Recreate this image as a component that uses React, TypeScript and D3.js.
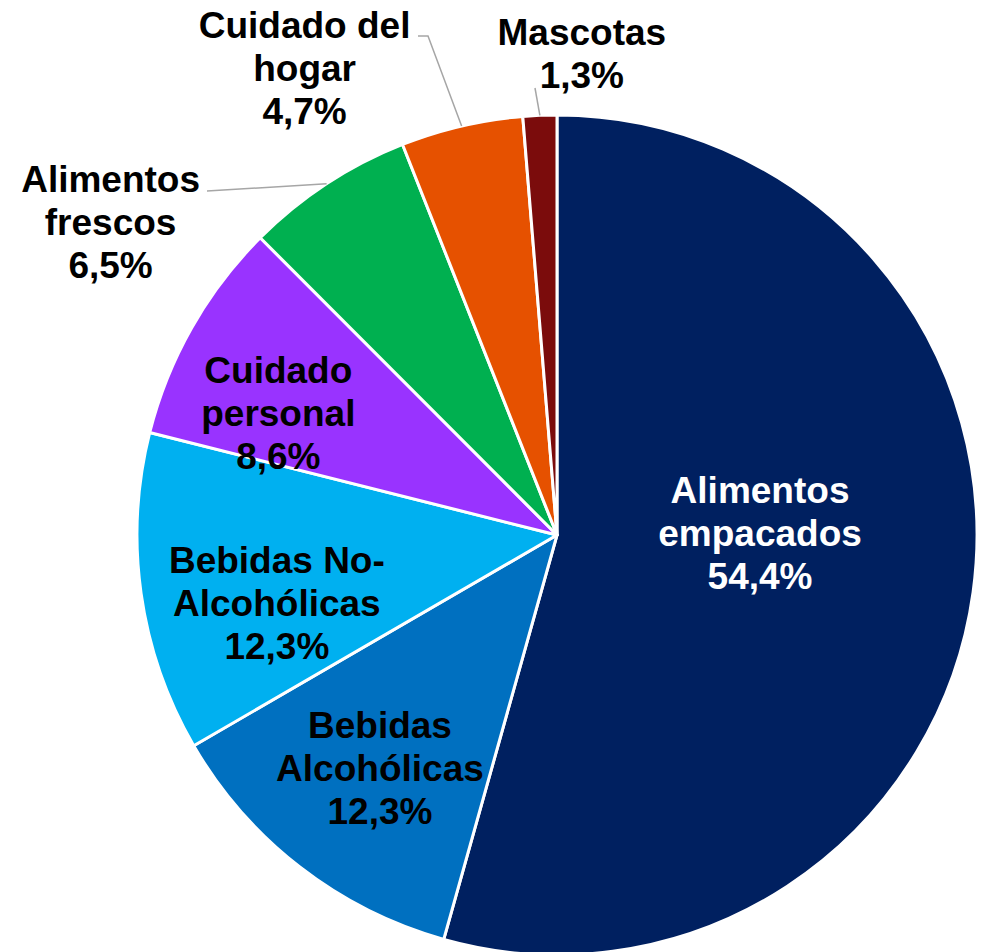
import * as d3 from 'd3';
import React from 'react';

const categories = [
  'Alimentos empacados',
  'Bebidas Alcohólicas',
  'Bebidas No-Alcohólicas',
  'Cuidado personal',
  'Alimentos frescos',
  'Cuidado del hogar',
  'Mascotas',
];
const values = [54.4, 12.3, 12.3, 8.6, 6.5, 4.7, 1.3];
const labelLines = [
  ['Alimentos', 'empacados', '54,4%'],
  ['Bebidas', 'Alcohólicas', '12,3%'],
  ['Bebidas No-', 'Alcohólicas', '12,3%'],
  ['Cuidado', 'personal', '8,6%'],
  ['Alimentos', 'frescos', '6,5%'],
  ['Cuidado del', 'hogar', '4,7%'],
  ['Mascotas', '1,3%'],
];
const colors = ['#002060', '#0070C0', '#00B0F0', '#9933FF', '#00B050', '#E65100', '#7B0C0C'];
const textColors = ['#ffffff', '#000000', '#000000', '#000000', '#000000', '#000000', '#000000'];

const W = 989;
const H = 952;
const cx = 557;
const cy = 535;
const r = 420;
const fontSize = 37;
const lineH = 43;

// inside labels: radius factor + nudge; outside: label offset from the arc edge
const inside = [
  { k: 0.5, dx: -5, dy: -31 },
  { k: 0.7, dx: 3, dy: 1 },
  { k: 0.7, dx: 11, dy: 27 },
  { k: 0.7, dx: -23, dy: 23 },
];
const outside = [
  { lx: -216, ly: 38, path: (p: [number, number]) => [p, [207, 191]] },
  { lx: -157, ly: -58, path: (p: [number, number]) => [p, [428, 36], [418, 36]] },
  { lx: 42, ly: -62, path: (p: [number, number]) => [p, [535, 88]] },
];

const pie = d3.pie<number>().sort(null).value(d => d);
const arc = d3.arc<d3.PieArcDatum<number>>().innerRadius(0).outerRadius(r);

export default function App() {
  const arcs = pie(values);

  const edge = (a: d3.PieArcDatum<number>): [number, number] => {
    const m = (a.startAngle + a.endAngle) / 2;
    return [cx + r * Math.sin(m), cy - r * Math.cos(m)];
  };

  const labelPos = (a: d3.PieArcDatum<number>, i: number): [number, number] => {
    if (i < inside.length) {
      const o = inside[i];
      const c = d3.arc<d3.PieArcDatum<number>>().innerRadius(0).outerRadius(2 * r * o.k).centroid(a);
      return [cx + c[0] + o.dx, cy + c[1] + o.dy];
    }
    const o = outside[i - inside.length];
    const p = edge(a);
    return [p[0] + o.lx, p[1] + o.ly];
  };

  return (
    <svg width={W} height={H} style={{ position: 'absolute', left: 0, top: 0 }}>
      <g transform={`translate(${cx},${cy})`}>
        {arcs.map((a, i) => (
          <path key={categories[i]} d={arc(a) || ''} fill={colors[i]} stroke="#ffffff" strokeWidth={3} strokeLinejoin="round" />
        ))}
      </g>
      {arcs.slice(inside.length).map((a, j) => (
        <polyline
          key={'l' + j}
          points={outside[j].path(edge(a)).map(p => p.join(',')).join(' ')}
          fill="none"
          stroke="#A6A6A6"
          strokeWidth={1.5}
        />
      ))}
      {arcs.map((a, i) => {
        const [x, y] = labelPos(a, i);
        const lines = labelLines[i];
        const top = y - ((lines.length - 1) * lineH) / 2;
        return (
          <text
            key={'t' + i}
            textAnchor="middle"
            fontFamily="'Liberation Sans', Arial, sans-serif"
            fontWeight="bold"
            fontSize={fontSize}
            fill={textColors[i]}
          >
            {lines.map((s, k) => (
              <tspan key={k} x={x} y={top + k * lineH + 13}>{s}</tspan>
            ))}
          </text>
        );
      })}
    </svg>
  );
}
